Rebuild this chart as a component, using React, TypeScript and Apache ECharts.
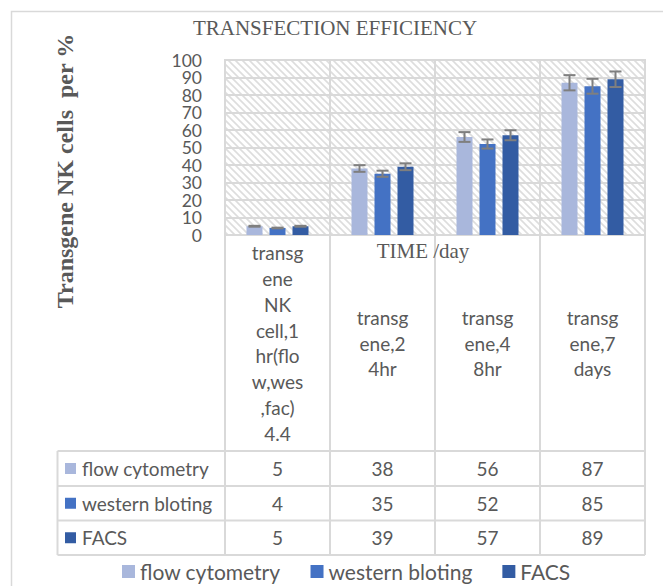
import React, { useEffect, useRef } from "react";
import * as echarts from "echarts";

// ---- data ----
const categories = [
  "transg\nene\nNK\ncell,1\nhr(flo\nw,wes\n,fac)\n4.4",
  "transg\nene,2\n4hr",
  "transg\nene,4\n8hr",
  "transg\nene,7\ndays",
];
const seriesNames = ["flow cytometry", "western bloting", "FACS"];
const flowCytometry = [5, 38, 56, 87];
const westernBloting = [4, 35, 52, 85];
const facsValues = [5, 39, 57, 89];
const flowErr = [0.25, 1.9, 2.8, 4.35];
const westernErr = [0.2, 1.75, 2.6, 4.25];
const facsErr = [0.25, 1.95, 2.85, 4.45];
const yTicks = [0, 10, 20, 30, 40, 50, 60, 70, 80, 90, 100];
const titleText = "TRANSFECTION EFFICIENCY";
const yAxisTitle = "Transgene NK cells  per %";
const xAxisTitle = "TIME /day";

// ---- style / layout ----
const W = 663;
const H = 586;
const GL = 225;
const GT = 60;
const GR = 645;
const GB = 235;
const colors = ["#A9B7DC", "#4472C4", "#335CA3"];
const gridColor = "#D9D9D9";
const textColor = "#595959";
const sans = "Lato, 'Noto Sans', sans-serif";
const serif = "'Liberation Serif', 'DejaVu Serif', serif";
const BAR_W = 16;
const BAR_GAP = 7;
const rowLines = [451, 486, 520.5, 555];
const tableLeft = 57.5;

const hatch =
  "data:image/svg+xml;charset=utf-8," +
  encodeURIComponent(
    "<svg xmlns='http://www.w3.org/2000/svg' width='7' height='7'><rect width='7' height='7' fill='#FFFFFF'/><path d='M0 0L7 7M-1 6L1 8M6 -1L8 1' stroke='#DDDDDD' stroke-width='1.6'/></svg>"
  );

export default function App() {
  const ref = useRef<HTMLDivElement>(null);

  useEffect(() => {
    if (!ref.current) return;
    const chart = echarts.init(ref.current, undefined, { renderer: "svg" });

    const values = [flowCytometry, westernBloting, facsValues];
    const errs = [flowErr, westernErr, facsErr];
    const colW = (GR - GL) / categories.length;
    const lineStyle = { stroke: gridColor, lineWidth: 2 };

    const graphics: any[] = [];
    // outer chart border (left + top)
    graphics.push({
      type: "polyline",
      shape: { points: [[11.5, H], [11.5, 11.5], [W, 11.5]] },
      style: { stroke: gridColor, lineWidth: 1.5, fill: null },
      silent: true,
    });
    // table vertical lines
    for (let i = 0; i <= categories.length; i++) {
      const x = GL + i * colW;
      graphics.push({
        type: "line",
        shape: { x1: x, y1: GB, x2: x, y2: rowLines[rowLines.length - 1] },
        style: lineStyle,
        silent: true,
      });
    }
    graphics.push({
      type: "line",
      shape: { x1: tableLeft, y1: rowLines[0], x2: tableLeft, y2: rowLines[rowLines.length - 1] },
      style: lineStyle,
      silent: true,
    });
    rowLines.forEach((y) => {
      graphics.push({
        type: "line",
        shape: { x1: tableLeft, y1: y, x2: GR, y2: y },
        style: lineStyle,
        silent: true,
      });
    });
    // table rows
    seriesNames.forEach((name, s) => {
      const cy = (rowLines[s] + rowLines[s + 1]) / 2;
      graphics.push({
        type: "rect",
        shape: { x: 65, y: cy - 5.5, width: 11, height: 11 },
        style: { fill: colors[s] },
        silent: true,
      });
      graphics.push({
        type: "text",
        x: 82,
        y: cy,
        style: {
          text: name,
          fill: textColor,
          fontSize: 19,
          fontFamily: sans,
          align: "left",
          verticalAlign: "middle",
        },
        silent: true,
      });
      values[s].forEach((v, i) => {
        graphics.push({
          type: "text",
          x: GL + (i + 0.5) * colW,
          y: cy,
          style: {
            text: String(v),
            fill: textColor,
            fontSize: 19,
            fontFamily: sans,
            align: "center",
            verticalAlign: "middle",
          },
          silent: true,
        });
      });
    });
    // titles
    graphics.push({
      type: "text",
      x: 335,
      y: 28,
      style: {
        text: titleText,
        fill: textColor,
        fontSize: 21,
        fontFamily: serif,
        align: "center",
        verticalAlign: "middle",
      },
      silent: true,
    });
    graphics.push({
      type: "text",
      x: 65,
      y: 171,
      rotation: Math.PI / 2,
      style: {
        text: yAxisTitle,
        fill: textColor,
        fontSize: 24,
        fontWeight: "bold",
        fontFamily: serif,
        align: "center",
        verticalAlign: "middle",
      },
      silent: true,
    });
    graphics.push({
      type: "text",
      x: 423,
      y: 251,
      style: {
        text: xAxisTitle,
        fill: textColor,
        fontSize: 21,
        fontFamily: serif,
        align: "center",
        verticalAlign: "middle",
      },
      silent: true,
    });

    const barSeries = seriesNames.map((name, s) => ({
      type: "bar",
      name,
      data: values[s],
      barWidth: BAR_W,
      barGap: (BAR_GAP / BAR_W) * 100 + "%",
      itemStyle: { color: colors[s] },
      z: 2,
    }));

    const errSeries = seriesNames.map((name, s) => ({
      type: "custom",
      name: name + " error",
      z: 3,
      silent: true,
      data: values[s].map((v, i) => [i, v - errs[s][i], v + errs[s][i]]),
      encode: { x: 0, y: [1, 2] },
      renderItem: (params: any, api: any) => {
        const ci = api.value(0);
        const lo = api.coord([ci, api.value(1)]);
        const hi = api.coord([ci, api.value(2)]);
        const x = lo[0] + (s - 1) * (BAR_W + BAR_GAP);
        const half = 6;
        const st = { stroke: "#7F7F7F", lineWidth: 2 };
        return {
          type: "group",
          children: [
            { type: "line", shape: { x1: x, y1: hi[1], x2: x, y2: lo[1] }, style: st },
            { type: "line", shape: { x1: x - half, y1: hi[1], x2: x + half, y2: hi[1] }, style: st },
            { type: "line", shape: { x1: x - half, y1: lo[1], x2: x + half, y2: lo[1] }, style: st },
          ],
        };
      },
    }));

    chart.setOption({
      animation: false,
      backgroundColor: "#FFFFFF",
      grid: {
        left: GL,
        top: GT,
        right: W - GR,
        bottom: H - GB,
        show: true,
        borderColor: gridColor,
        borderWidth: 2,
        backgroundColor: {
          image: hatch,
          repeat: "repeat",
          imageWidth: 7,
          imageHeight: 7,
        },
      },
      legend: {
        data: seriesNames,
        left: 117,
        top: 556,
        icon: "rect",
        itemWidth: 13,
        itemHeight: 13,
        itemGap: 30,
        textStyle: { color: textColor, fontSize: 21, fontFamily: sans },
        selectedMode: false,
      },
      xAxis: {
        type: "category",
        data: categories,
        axisLine: { show: true, lineStyle: { color: gridColor, width: 2 } },
        axisTick: { show: false },
        splitLine: { show: true, interval: 0, lineStyle: { color: gridColor, width: 2 } },
        axisLabel: {
          interval: 0,
          color: textColor,
          fontSize: 19,
          fontFamily: sans,
          lineHeight: 25.8,
          verticalAlign: "middle",
          margin: 108,
        },
      },
      yAxis: {
        type: "value",
        min: 0,
        max: 100,
        interval: 10,
        axisLine: { show: false },
        axisTick: { show: false },
        splitLine: { show: true, lineStyle: { color: gridColor, width: 2 } },
        axisLabel: { show: false },
      },
      graphic: graphics,
      series: [...barSeries, ...errSeries],
    });

    // y tick labels, positioned with the y axis scale
    const tickLabels = yTicks.map((v) => {
      const y = chart.convertToPixel({ yAxisIndex: 0 }, v) as number;
      return {
        type: "text",
        x: GL - 23,
        y,
        style: {
          text: String(v),
          fill: textColor,
          fontSize: 17.5,
          lineHeight: 17,
          fontFamily: sans,
          align: "right",
          verticalAlign: "middle",
        },
        silent: true,
      };
    });
    chart.setOption({ graphic: [...graphics, ...tickLabels] });

    return () => chart.dispose();
  }, []);

  return (
    <div
      ref={ref}
      style={{ position: "fixed", left: 0, top: 0, width: W, height: H }}
    />
  );
}
